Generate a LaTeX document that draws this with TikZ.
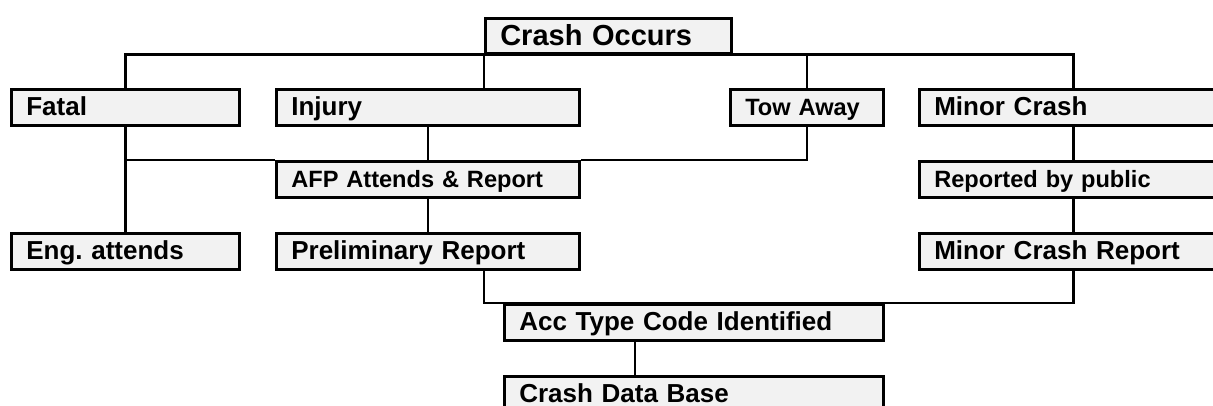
\documentclass[tikz,border=0pt]{standalone}
\usepackage{fontspec}
\setmainfont{Liberation Sans}
\usetikzlibrary{positioning}
\definecolor{boxfill}{HTML}{F2F2F2}
\frenchspacing

\begin{document}
\begin{tikzpicture}[x=0.5pt,y=-0.5pt,line width=1.3pt,
  box/.style={draw,fill=boxfill,anchor=north west,minimum height=18pt,inner xsep=7.5pt,inner ysep=2pt,align=left,text height=9pt,text depth=1pt,font=\fontsize{13}{15}\selectfont\bfseries},
  small/.style={font=\fontsize{11.8}{14}\selectfont\bfseries},
  big/.style={font=\fontsize{14.5}{17}\selectfont\bfseries,minimum height=17.5pt,text height=10.4pt}]
  \useasboundingbox (0,0) rectangle (1213,406);
  \clip (0,0) rectangle (1213,406);

  \node [box,big,text width=108pt] (crash) at (484,17) {Crash Occurs};
  \node [box,text width=99pt] (fatal) at (10,88) {Fatal};
  \node [box,text width=136.5pt] (injury) at (275,88) {Injury};
  \node [box,small,text width=61.5pt] (tow) at (729,88) {Tow Away};
  \node [box,text width=139pt] (minor) at (918,88) {Minor Crash};
  \node [box,small,text width=136.5pt] (afp) at (275,160) {AFP Attends \& Report};
  \node [box,small,text width=139pt] (public) at (918,160) {Reported by public};
  \node [box,text width=99pt] (eng) at (10,232) {Eng. attends};
  \node [box,text width=136.5pt] (prelim) at (275,232) {Preliminary Report};
  \node [box,text width=139pt] (mcr) at (918,232) {Minor Crash Report};
  \node [box,text width=174.5pt] (acc) at (503,303) {Acc Type Code Identified};
  \node [box,text width=174.5pt] (db) at (503,375) {Crash Data Base};

  \draw (fatal.north) |- (crash.south) -| (minor.north);
  \draw (crash.south west) -- (crash.south west |- injury.north);
  \draw (tow.north) -- (tow.north |- crash.south);
  \draw (fatal.south) -- (eng.north);
  \draw (afp.north west) -- (afp.north west -| fatal.south);
  \draw (injury.south) -- (afp.north);
  \draw (tow.south) |- (afp.north east);
  \draw (afp.south) -- (prelim.north);
  \draw (minor.south) -- (public.north);
  \draw (public.south) -- (mcr.north);
  \draw (prelim.south -| crash.south west) |- (acc.north) -| (mcr.south);
  \draw ([xshift=66pt]acc.south west) -- ([xshift=66pt]db.north west);
\end{tikzpicture}
\end{document}
